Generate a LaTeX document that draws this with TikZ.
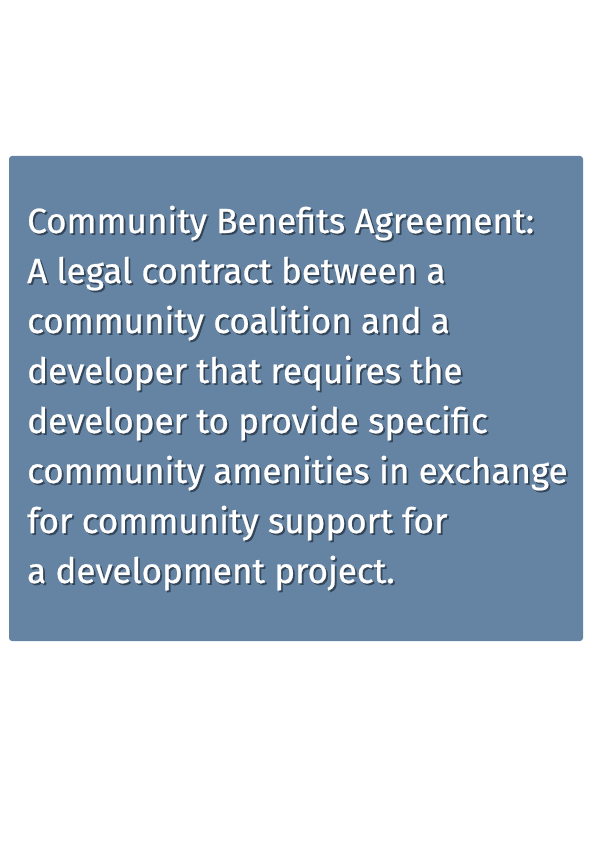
\documentclass[tikz,border=0pt]{standalone}
\usepackage{fontspec}
\setmainfont{Fira Sans}
\newfontfamily\cbafont[FakeBold=0.7]{Fira Sans}
\definecolor{boxblue}{HTML}{6584A3}
\definecolor{shadowc}{HTML}{34465A}
\newcommand{\shadowed}[1]{\rlap{\hspace{1.8pt}\raisebox{-1.8pt}{\textcolor{shadowc}{#1}}}\textcolor{white}{#1}}
\tikzset{
  panel/.style={fill=boxblue, draw=none, rounded corners=3pt},
  bodytext/.style={anchor=base west, inner sep=0pt, font=\cbafont\fontsize{35}{50}\selectfont},
}
\begin{document}
\begin{tikzpicture}[x=1pt,y=-1pt]
\useasboundingbox (0,0) rectangle (600,845);
\fill[white] (0,0) rectangle (600,845);
\path[panel] (9,156) rectangle (583,641);
\coordinate (t0) at (27,233);
\foreach \i/\txt in {0/{Community Benefits Agreement:},1/{A legal contract between a},2/{community coalition and a},3/{developer that requires the},4/{developer to provide specific},5/{community amenities in exchange},6/{for community support for},7/{a development project.}}{
  \node[bodytext] (l\i) at (t0 |- 0,233+50*\i) {\shadowed{\txt}};
}
\end{tikzpicture}
\end{document}
